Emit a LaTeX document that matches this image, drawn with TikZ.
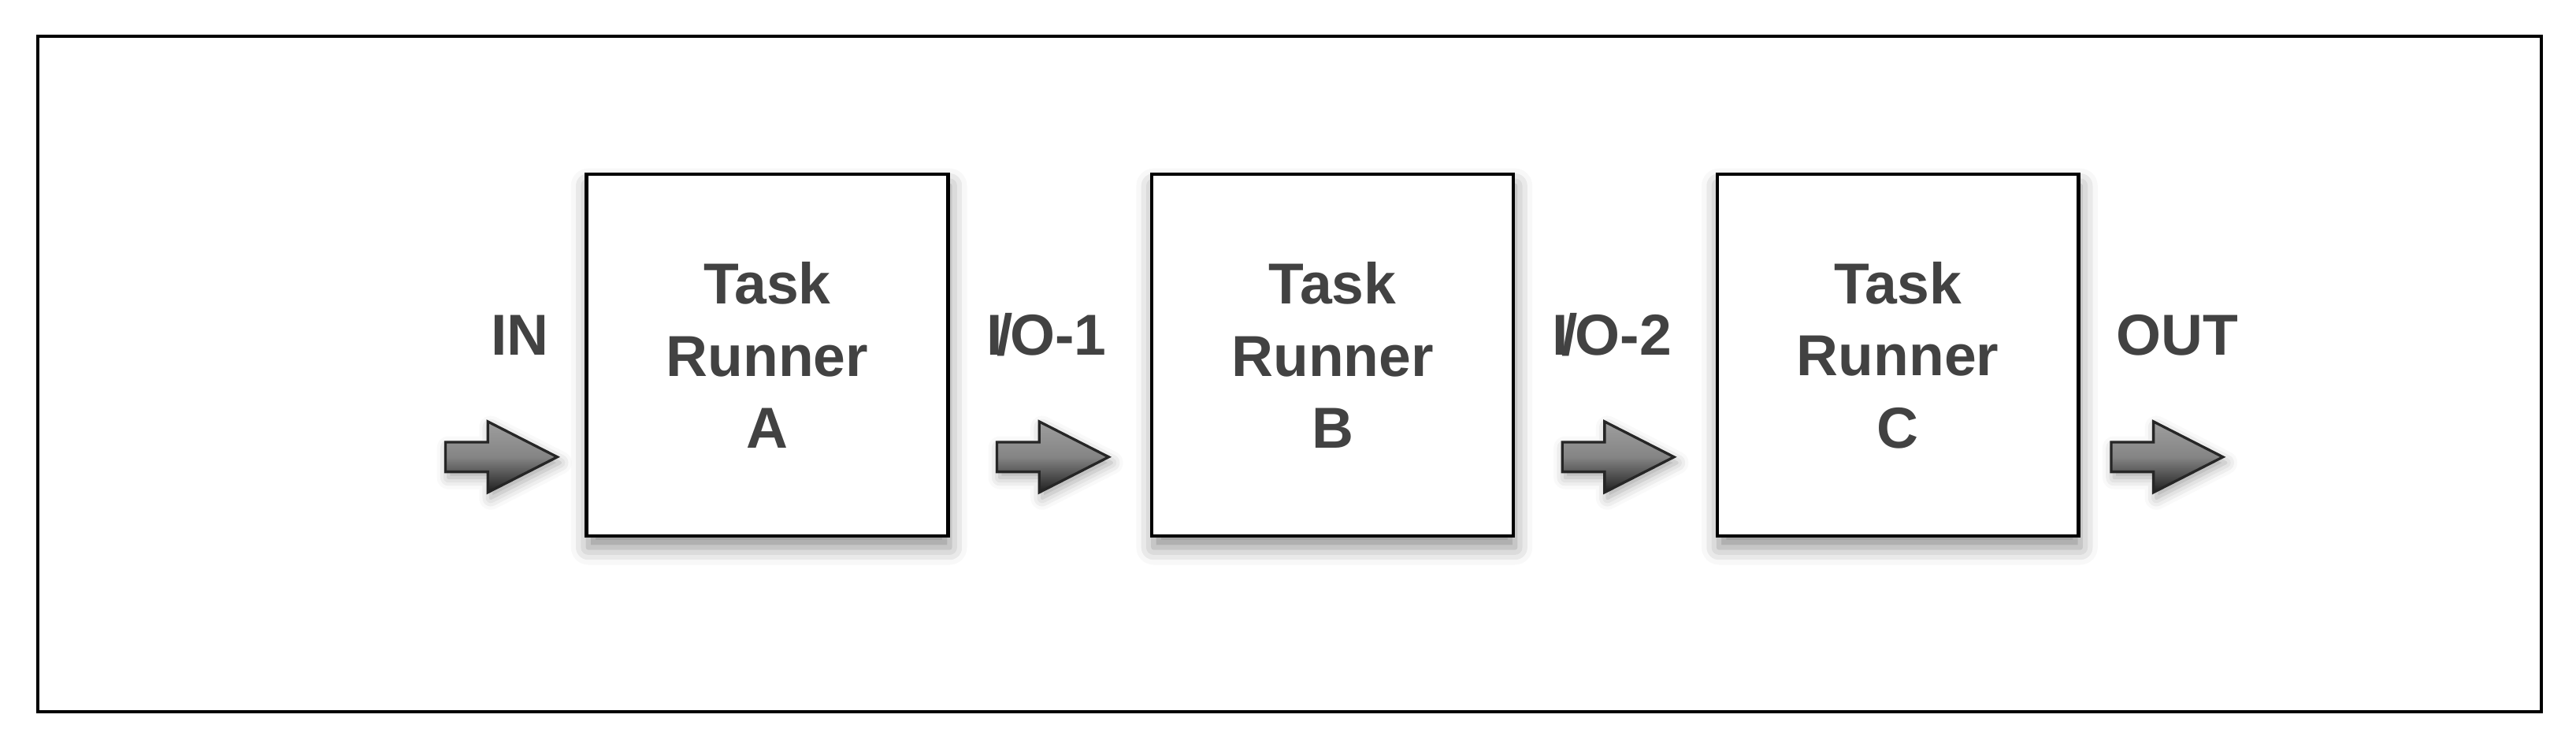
\documentclass[tikz,border=0pt]{standalone}
\usepackage{fontspec}
\setmainfont{Liberation Sans}
\usetikzlibrary{shapes,arrows,positioning,shadows.blur}

\begin{document}
\begin{tikzpicture}[align=center, node distance=1.22cm,
    font=\bfseries\fontsize{10}{12.5}\selectfont]
    \tikzset{
        box/.style      =   { rectangle
                            , draw=black
                            , line width=0.6pt
                            , fill=white
                            , text=black!74
                            , minimum width=2.2cm
                            , minimum height=2.2cm
                            , blur shadow={shadow xshift=0.3pt, shadow yshift=-2pt, shadow blur radius=3pt, shadow opacity=45}
        }
        , flow/.style   =   { single arrow
                            , draw=black!85
                            , line width=0.45pt
                            , inner xsep=0pt
                            , inner ysep=0.0825cm
                            , minimum height=0.68cm
                            , single arrow head extend=0.125cm
                            , single arrow tip angle=54
                            , top color=black!38
                            , bottom color=black!88
                            , middle color=black!48
                            , blur shadow={shadow xshift=0.5pt, shadow yshift=-1pt, shadow blur radius=2pt, shadow opacity=35}
        }
        , io/.style     =   { text=black!74
                            , inner sep=0pt
                            , text height=7.2pt
                            , text depth=0pt
        }
        , frame/.style  =   { draw=black
                            , line width=0.6pt
        }
    }
    \useasboundingbox (0,0) rectangle (15.68,4.55);
    \draw[frame] (0.23,0.22) rectangle (15.47,4.33);

    \node(taskA)[box] at (4.67,2.39)   {Task\\Runner\\A};
    \node(taskB)[box, right=of taskA]  {Task\\Runner\\B};
    \node(taskC)[box, right=of taskB]  {Task\\Runner\\C};

    \node(inArrow)[flow, left=0.15cm of taskA.west, anchor=tip, yshift=-0.62cm]   {};
    \node(ioOneArrow)[flow, right=0.28cm of taskA.east, anchor=tail, yshift=-0.62cm] {};
    \node(ioTwoArrow)[flow, right=0.28cm of taskB.east, anchor=tail, yshift=-0.62cm] {};
    \node(outArrow)[flow, right=0.18cm of taskC.east, anchor=tail, yshift=-0.62cm]   {};

    \node(inLabel)[io, above=0.62cm of inArrow.tail, anchor=base, xshift=0.46cm]     {IN};
    \node(ioOneLabel)[io, above=0.62cm of ioOneArrow.tail, anchor=base, xshift=0.31cm] {I\kern-1.1pt/\kern-0.5pt O-1};
    \node(ioTwoLabel)[io, above=0.62cm of ioTwoArrow.tail, anchor=base, xshift=0.31cm] {I\kern-1.1pt/\kern-0.5pt O-2};
    \node(outLabel)[io, above=0.62cm of outArrow.tail, anchor=base, xshift=0.41cm]   {OUT};
\end{tikzpicture}
\end{document}
